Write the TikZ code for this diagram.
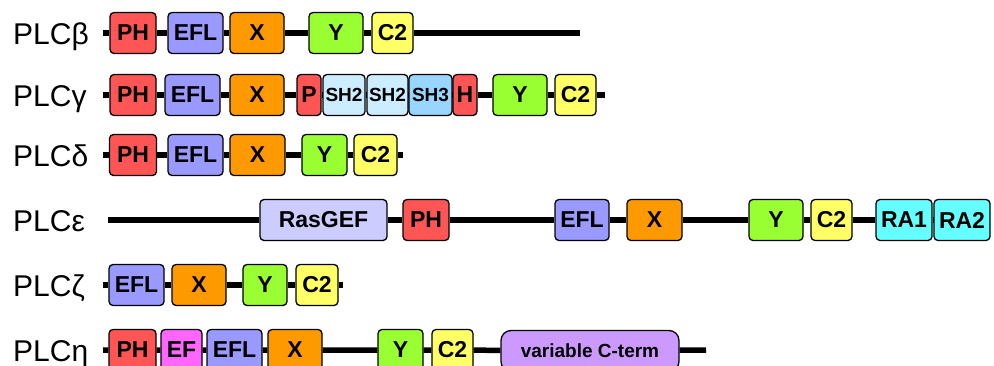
\documentclass[tikz,border=0pt]{standalone}
\usepackage{fontspec}
\setmainfont{Liberation Sans}
\usetikzlibrary{positioning}

\definecolor{phred}{RGB}{255,85,85}
\definecolor{eflblue}{RGB}{153,153,255}
\definecolor{xorange}{RGB}{255,153,0}
\definecolor{ygreen}{RGB}{153,255,51}
\definecolor{ctwoyel}{RGB}{255,255,102}
\definecolor{shtwo}{RGB}{204,236,255}
\definecolor{shthree}{RGB}{153,214,255}
\definecolor{rasgef}{RGB}{204,204,255}
\definecolor{racyan}{RGB}{102,255,255}
\definecolor{efpink}{RGB}{255,102,255}
\definecolor{cterm}{RGB}{204,153,255}

\tikzset{
  dom/.style={draw, rounded corners=4pt, line width=1.3pt, minimum height=41pt, inner sep=0pt,
    font=\fontsize{23}{23}\selectfont\bfseries},
  smalltxt/.style={font=\fontsize{19}{19}\selectfont\bfseries},
  ph/.style={dom, fill=phred},
  efl/.style={dom, fill=eflblue},
  xbox/.style={dom, fill=xorange},
  ybox/.style={dom, fill=ygreen},
  ctwo/.style={dom, fill=ctwoyel},
  backbone/.style={line width=5.5pt},
  plc/.style={anchor=base west, inner sep=0pt, font=\fontsize{30}{30}\selectfont}
}

\begin{document}
\begin{tikzpicture}[x=1pt, y=-1pt]
    \clip (0,0) rectangle (994,365);
    % PLC beta
    \node[plc] (lb) at (13,44) {PLCβ};
    \coordinate (b0) at (103,33);
    \coordinate (bE) at (580,33);
    \node[ph, minimum width=46pt] (b1) at (133,33) {PH};
    \node[efl, minimum width=55pt] (b2) at (195.5,33) {EFL};
    \node[xbox, minimum width=54pt] (b3) at (257,33) {X};
    \node[ybox, minimum width=54pt] (b4) at (336,33) {Y};
    \node[ctwo, minimum width=41pt] (b5) at (392.5,33) {C2};
    \draw[backbone] (b0) -- (b1) -- (b2) -- (b3) -- (b4) -- (b5) -- (bE);
    % PLC gamma
    \node[plc] (lg) at (13,106) {PLCγ};
    \coordinate (g0) at (103,95);
    \coordinate (gE) at (605,95);
    \node[ph, minimum width=46pt] (g1) at (133,95) {PH};
    \node[efl, minimum width=55pt] (g2) at (192.5,95) {EFL};
    \node[xbox, minimum width=54pt] (g3) at (257,95) {X};
    \node[ph, minimum width=24pt] (g4) at (309,95) {P};
    \node[dom, smalltxt, fill=shtwo, minimum width=42pt] (g5) at (344,95) {SH2};
    \node[dom, smalltxt, fill=shtwo, minimum width=41pt] (g6) at (387.5,95) {SH2};
    \node[dom, smalltxt, fill=shthree, minimum width=43pt] (g7) at (430.5,95) {SH3};
    \node[ph, minimum width=24pt] (g8) at (465,95) {H};
    \node[ybox, minimum width=54pt] (g9) at (520,95) {Y};
    \node[ctwo, minimum width=41pt] (g10) at (575.5,95) {C2};
    \draw[backbone] (g0) -- (g1) -- (g2) -- (g3) -- (g4) -- (g5) -- (g6) -- (g7) -- (g8) -- (g9) -- (g10) -- (gE);
    % PLC delta
    \node[plc] (ld) at (13,166) {PLCδ};
    \coordinate (d0) at (103,155);
    \coordinate (dE) at (403,155);
    \node[ph, minimum width=47pt] (d1) at (133,155) {PH};
    \node[efl, minimum width=55pt] (d2) at (195.5,155) {EFL};
    \node[xbox, minimum width=55pt] (d3) at (257.5,155) {X};
    \node[ybox, minimum width=45pt] (d4) at (324.5,155) {Y};
    \node[ctwo, minimum width=43pt] (d5) at (375.5,155) {C2};
    \draw[backbone] (d0) -- (d1) -- (d2) -- (d3) -- (d4) -- (d5) -- (dE);
    % PLC epsilon
    \node[plc] (le) at (13,231) {PLCε};
    \coordinate (e0) at (108,220);
    \node[dom, fill=rasgef, minimum width=127pt] (e1) at (323.5,220) {RasGEF};
    \node[ph, minimum width=46pt] (e2) at (426,220) {PH};
    \node[efl, minimum width=54pt] (e3) at (582,220) {EFL};
    \node[xbox, minimum width=55pt] (e4) at (654.5,220) {X};
    \node[ybox, minimum width=54pt] (e5) at (776,220) {Y};
    \node[ctwo, minimum width=41pt] (e6) at (831.5,220) {C2};
    \node[dom, fill=racyan, minimum width=56pt] (e7) at (904,220) {RA1};
    \node[dom, fill=racyan, minimum width=56pt] (e8) at (962,220) {RA2};
    \draw[backbone] (e0) -- (e1) -- (e2) -- (e3) -- (e4) -- (e5) -- (e6) -- (e7) -- (e8);
    % PLC zeta
    \node[plc] (lz) at (13,296) {PLCζ};
    \coordinate (z0) at (103,285);
    \coordinate (zE) at (343,285);
    \node[efl, minimum width=55pt] (z1) at (136.5,285) {EFL};
    \node[xbox, minimum width=54pt] (z2) at (199,285) {X};
    \node[ybox, minimum width=44pt] (z3) at (265,285) {Y};
    \node[ctwo, minimum width=42pt] (z4) at (317,285) {C2};
    \draw[backbone] (z0) -- (z1) -- (z2) -- (z3) -- (z4) -- (zE);
    % PLC eta
    \node[plc] (lh) at (13,361) {PLCη};
    \coordinate (h0) at (103,350);
    \coordinate (hE) at (706,350);
    \node[ph, minimum width=47pt] (h1) at (132.5,350) {PH};
    \node[dom, fill=efpink, minimum width=41pt] (h2) at (181.5,350) {EF};
    \node[efl, minimum width=55pt] (h3) at (234.5,350) {EFL};
    \node[xbox, minimum width=54pt] (h4) at (295,350) {X};
    \node[ybox, minimum width=45pt] (h5) at (400.5,350) {Y};
    \node[ctwo, minimum width=41pt] (h6) at (452.5,350) {C2};
    \node[dom, smalltxt, fill=cterm, rounded corners=10pt, minimum width=178pt] (h7) at (590,351) {variable C-term};
    \draw[backbone] (h0) -- (h1) -- (h2) -- (h3) -- (h4) -- (h5) -- (h6) -- (h7) -- (hE);
\end{tikzpicture}
\end{document}
